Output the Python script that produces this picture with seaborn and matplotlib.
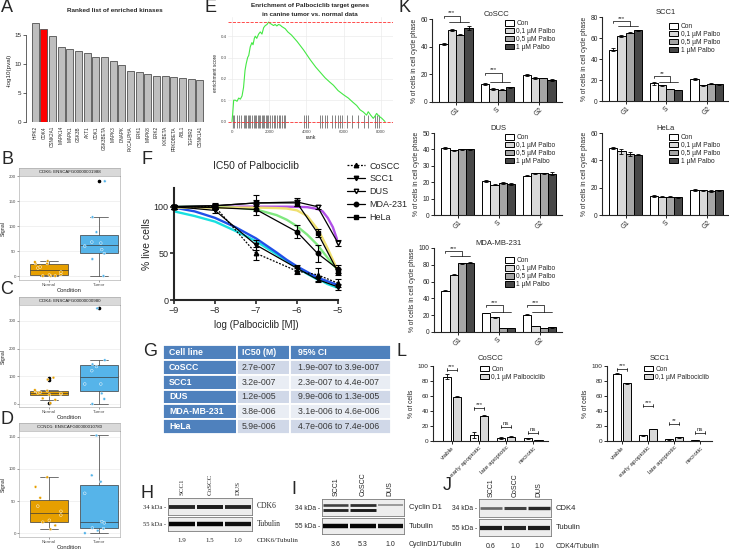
import numpy as np
import pandas as pd
import matplotlib
matplotlib.use("Agg")
import matplotlib.pyplot as plt
from matplotlib.container import BarContainer
from matplotlib.lines import Line2D
import seaborn as sns

W, H = 729, 549  # output size in pixels at dpi 100

# ── A: ranked list of enriched kinases ───────────────────────────────────────
kinases = ["HIPK2", "CDK4", "CSNK2A1", "MAPK14", "MAPK1", "GSK3B", "AKT1", "CDK1",
           "GSK3BETA", "MAPK3", "DNAPK", "PKCALPHA", "ERK1", "MAPK8", "ERK2",
           "IKKBETA", "PRKDBETA", "ABL1", "TGFBR2", "CSNK1A1"]
kinase_logp = [17.1, 16.0, 14.8, 12.9, 12.6, 12.2, 11.9, 11.2, 11.2, 10.5,
               9.8, 8.8, 8.6, 8.3, 7.9, 7.9, 7.8, 7.6, 7.4, 7.3]
highlight_kinase = "CDK4"

# ── B-D: expression signal, normal vs tumor ──────────────────────────────────
cdk6_title = "CDK6: ENSCAFG00000001988"
cdk6_normal = [0, 0, 0, 2, 3, 8, 16, 18, 25, 25, 28, 30]
cdk6_tumor = [0, 34, 45, 53, 60, 66, 68, 88, 118, 190]
cdk4_title = "CDK4: ENSCAFG00000000980"
cdk4_normal = [3, 15, 20, 33, 35, 38, 40, 42, 45, 48, 50, 88, 95]
cdk4_tumor = [0, 18, 38, 72, 72, 120, 135, 143, 158, 345]
ccnd1_title = "CCND1: ENSCAFG00000010780"
ccnd1_normal = [6, 12, 17, 20, 28, 34, 42, 55, 72, 87]
ccnd1_tumor = [0, 4, 7, 8, 16, 18, 62, 80, 90, 152]
cond_colors = {"Normal": "#E69F00", "Tumor": "#56B4E9"}

# ── E: GSEA running enrichment score ─────────────────────────────────────────
es_rank = [0, 40, 90, 180, 270, 360, 450, 540, 620, 700, 760, 840, 900, 980, 1070,
           1130, 1200, 1250, 1330, 1430, 1520, 1610, 1700, 1790, 1880, 1960, 2050,
           2140, 2230, 2320, 2410, 2500, 2590, 2680, 2770, 2860, 3000, 3200, 3500,
           3850, 4200, 4500, 4750, 5000, 5250, 5450, 5700, 6000, 6250, 6500, 6700,
           6880, 7050, 7230, 7320, 7450, 7590, 7680, 7770, 7900, 8050, 8220]
es_score = [0.0, 0.04, 0.10, 0.10, 0.095, 0.11, 0.105, 0.12, 0.16, 0.24, 0.27, 0.30,
            0.31, 0.35, 0.37, 0.36, 0.39, 0.40, 0.39, 0.41, 0.42, 0.41, 0.44, 0.45,
            0.455, 0.466, 0.46, 0.455, 0.45, 0.455, 0.448, 0.455, 0.452, 0.445, 0.44,
            0.435, 0.42, 0.405, 0.375, 0.335, 0.29, 0.255, 0.23, 0.205, 0.185, 0.17,
            0.145, 0.125, 0.11, 0.09, 0.075, 0.055, 0.045, 0.03, 0.046, 0.03, 0.015,
            0.025, 0.038, 0.025, 0.015, 0.0]
hit_ranks = [30, 90, 270, 360, 480, 620, 680, 770, 840, 930, 980, 1070, 1160, 1250,
             1300, 1380, 1450, 1520, 1610, 1660, 1730, 1820, 1880, 1960, 2050, 2140,
             2230, 2320, 2410, 2500, 2590, 2680, 2770, 2860, 3880, 3980, 4060, 4730,
             4820, 5000, 5130, 5360, 5540, 5710, 5800, 5890, 6160, 6430, 6790, 7090,
             7320, 7680, 7770, 7910]

# ── F: IC50 of Palbociclib ───────────────────────────────────────────────────
ic50_lines = ["CoSCC", "SCC1", "DUS", "MDA-231", "HeLa"]
dose_log = [-9, -8, -7, -6, -5.5, -5]
viab_coscc = [100, 100, 50, 31, 27, 18]
viab_scc1 = [100, 96, 59, 34, 22, 14]
viab_dus = [100, 101, 104, 105, 100, 61]
viab_mda = [100, 99, 97, 73, 50, 33]
viab_hela = [100, 101, 104, 104, 72, 30]
err_coscc = [2, 3, 7, 3, 7, 4]
err_scc1 = [2, 3, 5, 3, 3, 3]
err_dus = [2, 3, 3, 4, 2, 3]
err_mda = [2, 2, 6, 7, 9, 4]
err_hela = [2, 2, 9, 3, 4, 3]
fit_logc = [-9, -8.5, -8, -7.5, -7, -6.5, -6.25, -6, -5.75, -5.5, -5.375, -5.25, -5.125, -5]
fit_coscc = [95, 90, 84, 74, 63, 49, 42, 35, 28, 22, 20, 17, 15, 13]
fit_scc1 = [99, 95, 88, 78, 66, 51, 43, 36, 30, 24, 22, 20, 18, 16]
fit_dus = [100, 100, 100, 100, 100, 100, 100, 99.8, 99.5, 97.5, 95, 88, 78, 62]
fit_mda = [100, 100, 99.5, 99, 97, 91, 86, 79, 70, 59, 52, 45, 38, 32]
fit_hela = [99, 99, 99, 99, 99, 98.5, 98, 96, 90, 76, 66, 55, 43, 31]
fit_colors = ["#19E0E0", "#2050E8", "#B050E8", "#80E880", "#F0E070"]

# ── G: IC50 table ────────────────────────────────────────────────────────────
table_header = ["Cell line", "IC50 (M)", "95% CI"]
table_lines = ["CoSCC", "SCC1", "DUS", "MDA-MB-231", "HeLa"]
table_ic50 = ["2.7e-007", "3.2e-007", "1.2e-005", "3.8e-006", "5.9e-006"]
table_ci = ["1.9e-007 to 3.9e-007", "2.3e-007 to 4.4e-007", "9.9e-006 to 1.3e-005",
            "3.1e-006 to 4.6e-006", "4.7e-006 to 7.4e-006"]

# ── H-J: western blots ───────────────────────────────────────────────────────
blot_lanes = ["SCC1", "CoSCC", "DUS"]
cdk6_band = [0.85, 0.9, 0.85]
tub_h_band = [1.0, 1.0, 0.95]
h_ratio = ["1.9", "1.5", "1.0"]
cycd1_upper_band = [0.7, 0.8, 0.25]
cycd1_lower_band = [0.85, 0.9, 0.0]
tub_i_band = [1.0, 1.0, 0.95]
i_ratio = ["3.6", "5.3", "1.0"]
cdk4_band = [0.5, 0.7, 0.85]
tub_j_band = [0.9, 0.85, 0.9]
j_ratio = ["0.6", "1.0", "1.0"]

# ── K: cell cycle distribution ───────────────────────────────────────────────
k_phases = ["G1", "S", "G2"]
k_treatments = ["Con", "0,1 µM Palbo", "0,5 µM Palbo", "1 µM Palbo"]
k_colors = ["#FFFFFF", "#D9D9D9", "#A6A6A6", "#474747"]
k_coscc = [[42, 52, 48.5, 53.5], [13, 9.5, 9, 10.5], [19.5, 17.5, 17.3, 16]]
k_coscc_err = [[0.5, 0.6, 0.4, 1.2], [0.6, 0.5, 0.4, 0.5], [0.5, 0.8, 0.3, 0.5]]
k_scc1 = [[49, 62, 65, 67.5], [17, 15, 11.5, 10.5], [21, 15, 16.5, 16]]
k_scc1_err = [[1.5, 0.6, 0.7, 0.5], [1.5, 0.4, 0.4, 0.4], [0.8, 0.3, 0.4, 0.3]]
k_dus = [[41, 39.5, 40, 40], [20.5, 18.5, 19.5, 18.8], [24, 25.5, 25.5, 25.2]]
k_dus_err = [[0.5, 0.3, 0.4, 0.3], [0.6, 0.4, 0.4, 0.6], [0.4, 0.3, 0.3, 0.8]]
k_hela = [[49, 46.5, 44.5, 44.2], [14, 13.5, 13.5, 13], [18.5, 18, 17.5, 18]]
k_hela_err = [[0.6, 1.5, 1.5, 0.6], [0.5, 0.4, 0.4, 0.4], [0.8, 0.5, 0.5, 0.5]]
k_mda = [[49, 68, 82, 82.5], [22.5, 17.5, 5, 5], [20.5, 7, 5, 5.5]]
k_mda_err = [[0.6, 0.6, 0.5, 0.5], [0.4, 0.5, 0.2, 0.2], [0.4, 0.3, 0.2, 0.2]]

# ── L: apoptosis ─────────────────────────────────────────────────────────────
l_states = ["viable", "early apoptotic", "late apoptotic", "necrotic"]
l_treatments = ["Con", "0,1 µM Palbociclib"]
l_colors = ["#FFFFFF", "#D9D9D9"]
l_coscc = [[86, 59], [8, 33.5], [4, 6], [3.5, 1]]
l_coscc_err = [[3, 0.5], [4, 0.8], [1, 0.6], [0.8, 0.2]]
l_coscc_sig = ["***", "***", "ns", "ns"]
l_scc1 = [[90, 77], [7.5, 16], [2.5, 5], [1, 0.3]]
l_scc1_err = [[0.5, 0.5], [0.5, 0.5], [0.5, 0.5], [0.2, 0.1]]
l_scc1_sig = ["***", "***", "**", "ns"]


sns.set_style("ticks")
plt.rcParams["font.family"] = ["Liberation Sans", "DejaVu Sans"]
plt.rcParams["axes.linewidth"] = 0.8

fig = plt.figure(figsize=(W / 100, H / 100), dpi=100)


def px_axes(x0, y0, x1, y1):
    """Axes from a pixel box (top-left origin)."""
    return fig.add_axes([x0 / W, 1 - y1 / H, (x1 - x0) / W, (y1 - y0) / H])


def fig_text(x, y, s, **kw):
    kw.setdefault("ha", "center")
    kw.setdefault("va", "center")
    fig.text(x / W, 1 - y / H, s, **kw)


def bar_groups(ax):
    return [c for c in ax.containers if isinstance(c, BarContainer)]


# ── A ─────────────────────────────────────────────────────────────────────────
ax = px_axes(30, 18, 205, 122)
df_a = pd.DataFrame({"kinase": kinases, "logp": kinase_logp})
pal_a = ["#FF0000" if k == highlight_kinase else "#BEBEBE" for k in kinases]
sns.barplot(data=df_a, x="kinase", y="logp", hue="kinase", palette=pal_a, legend=False,
            width=0.8, edgecolor="#505050", linewidth=0.6, saturation=1, ax=ax)
ax.set_xlim(-0.6, 19.6)
ax.set_ylim(0, 17.9)
for s in ["top", "right", "bottom"]:
    ax.spines[s].set_visible(False)
ax.spines["left"].set_bounds(0, 15)
ax.spines["left"].set_linewidth(0.5)
ax.spines["left"].set_position(("outward", 3))
ax.set_yticks([0, 5, 10, 15])
ax.tick_params(axis="y", labelsize=4.5, length=2, width=0.5, pad=1)
ax.tick_params(axis="x", labelsize=3.3, rotation=90, length=0, pad=3)
ax.set_xlabel("")
ax.set_ylabel("-log10(pval)", fontsize=4.5, labelpad=2)
fig_text(115, 10, "Ranked list of enriched kinases", fontsize=4.6, fontweight="bold")


# ── B-D ───────────────────────────────────────────────────────────────────────
def expr_panel(top, bottom, title, normal, tumor, ylim, yticks):
    strip = px_axes(19, top, 120, top + 8)
    strip.set_facecolor("#D9D9D9")
    strip.set_xticks([])
    strip.set_yticks([])
    for s in strip.spines.values():
        s.set_color("#A0A0A0")
        s.set_linewidth(0.4)
    strip.text(0.5, 0.5, title, ha="center", va="center", fontsize=3.2,
               color="#1A1A1A", transform=strip.transAxes)

    ax = px_axes(19, top + 8, 120, bottom)
    df = pd.DataFrame({"Condition": ["Normal"] * len(normal) + ["Tumor"] * len(tumor),
                       "Signal": normal + tumor})
    ax.grid(True, color="#EBEBEB", lw=0.5)
    ax.set_axisbelow(True)
    sns.boxplot(data=df, x="Condition", y="Signal", hue="Condition", palette=cond_colors,
                legend=False, width=0.75, saturation=1, linewidth=0.5, linecolor="#3A3A3A",
                flierprops=dict(marker="o", markersize=1.6, markerfacecolor="black",
                                markeredgecolor="black"), ax=ax)
    np.random.seed(3)
    sns.stripplot(data=df, x="Condition", y="Signal", hue="Condition", palette=cond_colors,
                  legend=False, jitter=0.3, size=2.0, linewidth=0.3, edgecolor="white",
                  ax=ax)
    ax.set_xlim(-0.6, 1.42)
    ax.set_ylim(*ylim)
    ax.set_yticks(yticks)
    for s in ax.spines.values():
        s.set_color("#A0A0A0")
        s.set_linewidth(0.4)
    ax.tick_params(labelsize=3.2, length=1.2, width=0.4, pad=1, colors="#4D4D4D")
    ax.set_xlabel("Condition", fontsize=4.2, labelpad=0.5)
    ax.set_ylabel("Signal", fontsize=3.8, labelpad=2)


expr_panel(168, 280, cdk6_title, cdk6_normal, cdk6_tumor, (-8, 200.5), [0, 50, 100, 150, 200])
expr_panel(297, 407, cdk4_title, cdk4_normal, cdk4_tumor, (-11, 357), [0, 100, 200, 300])
expr_panel(423, 537, ccnd1_title, ccnd1_normal, ccnd1_tumor, (-6, 159), [0, 50, 100, 150])


# ── E ─────────────────────────────────────────────────────────────────────────
ax = px_axes(228, 17, 393, 129)
ax.grid(True, color="#EBEBEB", lw=0.5)
ax.set_axisbelow(True)
ax.vlines(hit_ranks, -0.03, 0.03, color="black", lw=0.45, alpha=0.75)
sns.lineplot(x=es_rank, y=es_score, color="#44E844", lw=0.8, ax=ax)
ax.axhline(max(es_score), color="#FF3030", ls="--", lw=0.6)
ax.axhline(0, color="#FF3030", ls="--", lw=0.6)
ax.set_xlim(-215, 8650)
ax.set_ylim(-0.035, 0.49)
ax.set_xticks([0, 2000, 4000, 6000, 8000])
ax.set_yticks([0, 0.1, 0.2, 0.3, 0.4])
for s in ax.spines.values():
    s.set_visible(False)
ax.tick_params(labelsize=3.2, length=0, pad=1, colors="#4D4D4D")
ax.set_xlabel("rank", fontsize=3.8, labelpad=0.5)
ax.set_ylabel("enrichment score", fontsize=3.5, labelpad=2)
fig_text(310, 6, "Enrichment of Palbociclib target genes", fontsize=4.6, fontweight="bold")
fig_text(310, 15, "in canine tumor vs. normal data", fontsize=4.6, fontweight="bold")


# ── F ─────────────────────────────────────────────────────────────────────────
ax = px_axes(174, 188, 338, 300)
fit_df = pd.DataFrame({
    "logc": fit_logc * 5,
    "viab": fit_coscc + fit_scc1 + fit_dus + fit_mda + fit_hela,
    "line": np.repeat(ic50_lines, len(fit_logc)),
})
sns.lineplot(data=fit_df, x="logc", y="viab", hue="line", hue_order=ic50_lines,
             palette=fit_colors, lw=1.7, legend=False, ax=ax)
f_vals = [viab_coscc, viab_scc1, viab_dus, viab_mda, viab_hela]
f_errs = [err_coscc, err_scc1, err_dus, err_mda, err_hela]
f_markers = ["^", "v", "v", "o", "s"]
f_faces = ["black", "black", "white", "black", "black"]
f_styles = [(0, (1.5, 1.2)), "-", "-", "-", "-"]
handles = []
for name, vals, errs, mk, fc, ls in zip(ic50_lines, f_vals, f_errs, f_markers, f_faces, f_styles):
    ax.errorbar(dose_log, vals, yerr=errs, color="black", marker=mk, mfc=fc, mec="black",
                ms=3.2, lw=0.9, ls=ls, capsize=2, elinewidth=0.8, capthick=0.8,
                clip_on=False, zorder=4)
    handles.append(Line2D([], [], color="black", marker=mk, mfc=fc, mec="black", ms=3.2,
                          lw=0.9, ls=ls, label=name))
ax.set_xlim(-9, -5)
ax.set_ylim(0, 120)
ax.set_xticks([-9, -8, -7, -6, -5])
ax.set_yticks([0, 50, 100])
sns.despine(ax=ax)
for s in ["left", "bottom"]:
    ax.spines[s].set_linewidth(1.5)
ax.tick_params(labelsize=6.5, length=3, width=1.2, pad=1)
ax.set_xlabel("log (Palbociclib [M])", fontsize=7, labelpad=4)
ax.set_ylabel("% live cells", fontsize=7.5, labelpad=1)
fig_text(256, 166, "IC50 of Palbociclib", fontsize=7.5)
fig.legend(handles=handles, loc="upper left", bbox_to_anchor=(343 / W, 1 - 158 / H),
           frameon=False, fontsize=6.5, handlelength=2.0, labelspacing=0.42,
           handletextpad=0.5, borderaxespad=0)


# ── G ─────────────────────────────────────────────────────────────────────────
ax = px_axes(163, 345, 391, 434)
ax.axis("off")
cell_text = [[a, b, c] for a, b, c in zip(table_lines, table_ic50, table_ci)]
tbl = ax.table(cellText=cell_text, colLabels=table_header, bbox=[0, 0, 1, 1],
               colWidths=[74, 52, 101], cellLoc="left", colLoc="left")
tbl.auto_set_font_size(False)
for (r, c), cell in tbl.get_celld().items():
    cell.set_edgecolor("white")
    cell.set_linewidth(1.3)
    cell.PAD = 0.08
    txt = cell.get_text()
    txt.set_fontsize(6.3)
    if r == 0 or c == 0:
        cell.set_facecolor("#4F81BD")
        txt.set_color("white")
        txt.set_fontweight("bold")
    else:
        cell.set_facecolor("#D0D8E8" if r % 2 == 1 else "#E9EDF4")
        txt.set_color("#3A3A3A")


# ── H-J ───────────────────────────────────────────────────────────────────────
def blot_box(box, rows, thick):
    ax = px_axes(*box)
    ax.set_xlim(-0.5, 2.5)
    ax.set_ylim(-1, 1)
    ax.set_facecolor("#EDEDED")
    ax.set_xticks([])
    ax.set_yticks([])
    for s in ax.spines.values():
        s.set_color("#7A7A7A")
        s.set_linewidth(0.6)
    for ypos, bands in rows:
        for i, v in enumerate(bands):
            if v > 0:
                ax.plot([i - 0.46, i + 0.46], [ypos, ypos], color=str(round(0.8 - 0.78 * v, 2)),
                        lw=thick * (0.5 + 0.5 * v), solid_capstyle="butt")
    return ax


def blot_panel(x0, x1, y_top, y_mid, y_bot, top_rows, tub_rows, top_name,
               ratios, ratio_name, font, label_y, thick_top):
    blot_box((x0, y_top, x1, y_mid), top_rows, thick_top)
    blot_box((x0, y_mid + 2, x1, y_bot), tub_rows, 3.2)
    lane_w = (x1 - x0) / 3
    for i, lane in enumerate(blot_lanes):
        cx = x0 + lane_w * (i + 0.5)
        fig_text(cx, label_y, lane, rotation=90, va="bottom", fontsize=5, family=font)
        fig_text(cx, y_bot + 10, ratios[i], fontsize=5, family=font)
    fig_text(x0 - 2, (y_top + y_mid) / 2 + 1, "34 kDa -", ha="right", fontsize=4.8, family=font)
    fig_text(x0 - 2, (y_mid + y_bot) / 2 + 2, "55 kDa -", ha="right", fontsize=4.8, family=font)
    fig_text(x1 + 5, (y_top + y_mid) / 2, top_name, ha="left", fontsize=5.5, family=font)
    fig_text(x1 + 5, (y_mid + y_bot) / 2 + 1, "Tubulin", ha="left", fontsize=5.5, family=font)
    fig_text(x1 + 5, y_bot + 10, ratio_name, ha="left", fontsize=5, family=font)


serif = ["Liberation Serif", "DejaVu Serif"]
sans = ["Liberation Sans", "DejaVu Sans"]
blot_panel(168, 252, 498, 515, 531, [(0, cdk6_band)], [(0, tub_h_band)],
           "CDK6", h_ratio, "CDK6/Tubulin", serif, 495, 3.0)
blot_panel(322, 404, 499, 516, 534,
           [(0.35, cycd1_upper_band), (-0.3, cycd1_lower_band)], [(0, tub_i_band)],
           "Cyclin D1", i_ratio, "CyclinD1/Tubulin", sans, 496, 2.2)
blot_panel(479, 551, 499, 517, 536, [(0, cdk4_band)], [(0, tub_j_band)],
           "CDK4", j_ratio, "CDK4/Tubulin", sans, 497, 2.6)


# ── K ─────────────────────────────────────────────────────────────────────────
def cycle_panel(box, title, values, errs, ylim, yticks, legend_anchor):
    ax = px_axes(*box)
    df = pd.DataFrame({
        "phase": np.repeat(k_phases, len(k_treatments)),
        "treat": k_treatments * len(k_phases),
        "val": np.ravel(values),
    })
    sns.barplot(data=df, x="phase", y="val", hue="treat", order=k_phases,
                hue_order=k_treatments, palette=k_colors, saturation=1, width=0.8,
                edgecolor="black", linewidth=0.7, errorbar=None, ax=ax)
    groups = bar_groups(ax)
    for ti, cont in enumerate(groups):
        for pi, bar in enumerate(cont):
            ax.errorbar(bar.get_x() + bar.get_width() / 2, bar.get_height(),
                        yerr=errs[pi][ti], color="black", lw=0.6, capsize=1.2,
                        capthick=0.6, clip_on=False)
    ax.set_xlim(-0.58, 2.55)
    ax.set_ylim(*ylim)
    ax.set_yticks(yticks)
    sns.despine(ax=ax)
    ax.tick_params(axis="y", labelsize=4.8, length=2, width=0.7, pad=1)
    ax.tick_params(axis="x", labelsize=4.8, length=2, width=0.7, pad=1, rotation=45)
    ax.set_xlabel("")
    ax.set_ylabel("% of cells in cell cycle phase", fontsize=4.8, labelpad=2)
    ax.set_title(title, fontsize=5.5, pad=2)
    sns.move_legend(ax, "upper right", bbox_to_anchor=legend_anchor, frameon=False,
                    title=None, fontsize=4.8, handlelength=1.3, handleheight=0.9,
                    labelspacing=0.12, handletextpad=0.4, borderaxespad=0)
    return ax, groups


def group_bracket(ax, groups, phase_idx, h1, h2, label):
    xs = [c[phase_idx].get_x() + c[phase_idx].get_width() / 2 for c in groups]
    x_mid = (xs[1] + xs[3]) / 2
    kw = dict(color="black", lw=0.5, clip_on=False)
    ax.plot([xs[0], xs[0], x_mid, x_mid], [h1 - (h1 - h2) * 0.3, h1, h1, h2], **kw)
    ax.plot([xs[0] + 0.12, xs[3]], [h2, h2], **kw)
    ax.text((xs[0] + x_mid) / 2, h1, label, ha="center", va="bottom", fontsize=4.5)


ax, grp = cycle_panel((432, 19, 562, 102), "CoSCC", k_coscc, k_coscc_err, (0, 60),
                      [0, 20, 40, 60], (0.97, 1.02))
group_bracket(ax, grp, 0, 62.5, 57.5, "***")
group_bracket(ax, grp, 1, 21.3, 14.5, "***")

ax, grp = cycle_panel((602, 17, 729, 101), "SCC1", k_scc1, k_scc1_err, (0, 80),
                      [0, 20, 40, 60, 80], (0.95, 0.96))
group_bracket(ax, grp, 0, 76, 71.5, "***")
group_bracket(ax, grp, 1, 24, 18, "**")

cycle_panel((434, 133, 562, 215), "DUS", k_dus, k_dus_err, (0, 50),
            [0, 10, 20, 30, 40, 50], (0.97, 1.02))
cycle_panel((602, 133, 729, 215), "HeLa", k_hela, k_hela_err, (0, 60),
            [0, 20, 40, 60], (0.95, 1.02))

ax, grp = cycle_panel((434, 248, 562, 332), "MDA-MB-231", k_mda, k_mda_err, (0, 100),
                      [0, 20, 40, 60, 80, 100], (0.97, 0.92))
group_bracket(ax, grp, 0, 96, 90, "***")
group_bracket(ax, grp, 1, 32.5, 24, "***")
group_bracket(ax, grp, 2, 32.5, 24, "***")


# ── L ─────────────────────────────────────────────────────────────────────────
def apoptosis_panel(box, title, values, errs, sigs, sig_heights, xlim):
    ax = px_axes(*box)
    df = pd.DataFrame({
        "state": np.repeat(l_states, len(l_treatments)),
        "treat": l_treatments * len(l_states),
        "val": np.ravel(values),
    })
    sns.barplot(data=df, x="state", y="val", hue="treat", order=l_states,
                hue_order=l_treatments, palette=l_colors, saturation=1, width=0.75,
                gap=0.15, edgecolor="black", linewidth=0.7, errorbar=None, ax=ax)
    groups = bar_groups(ax)
    for ti, cont in enumerate(groups):
        for si, bar in enumerate(cont):
            ax.errorbar(bar.get_x() + bar.get_width() / 2, bar.get_height(),
                        yerr=errs[si][ti], color="black", lw=0.6, capsize=1.2,
                        capthick=0.6, clip_on=False)
    for si, (sig, h) in enumerate(zip(sigs, sig_heights)):
        x0 = groups[0][si].get_x() + groups[0][si].get_width() / 2
        x1 = groups[1][si].get_x() + groups[1][si].get_width() / 2
        ax.plot([x0, x1], [h, h], color="black", lw=0.5, clip_on=False)
        for xx in (x0, x1):
            ax.plot([xx, xx], [h - 2, h + 2], color="black", lw=0.5, clip_on=False)
        ax.text((x0 + x1) / 2, h + 1.5, sig, ha="center", va="bottom", fontsize=4.3)
    ax.set_xlim(*xlim)
    ax.set_ylim(0, 100)
    ax.set_yticks([0, 20, 40, 60, 80, 100])
    sns.despine(ax=ax)
    ax.tick_params(axis="y", labelsize=4.6, length=2, width=0.7, pad=1)
    ax.tick_params(axis="x", labelsize=4.6, length=2, width=0.7, pad=1)
    plt.setp(ax.get_xticklabels(), rotation=45, ha="right", rotation_mode="anchor")
    ax.set_xlabel("")
    ax.set_ylabel("% of cells", fontsize=4.8, labelpad=2)
    ax.set_title(title, fontsize=5.5, pad=4)
    sns.move_legend(ax, "upper right", bbox_to_anchor=(1.0, 1.04), frameon=False,
                    title=None, fontsize=4.8, handlelength=1.3, handleheight=0.9,
                    labelspacing=0.12, handletextpad=0.4, borderaxespad=0)


apoptosis_panel((433, 366, 548, 441), "CoSCC", l_coscc, l_coscc_err, l_coscc_sig,
                [95, 44, 19, 11], (-0.7, 3.55))
apoptosis_panel((607, 366, 712, 441), "SCC1", l_scc1, l_scc1_err, l_scc1_sig,
                [96, 47, 23, 11], (-0.58, 3.46))


# ── panel letters ────────────────────────────────────────────────────────────
letters = {"A": (7, 8), "B": (7, 159), "C": (7, 289), "D": (7, 420), "E": (211, 8),
           "F": (147, 160), "G": (150, 352), "H": (147, 493), "I": (294, 489),
           "J": (447, 485), "K": (405, 8), "L": (401, 352)}
for letter, (lx, ly) in letters.items():
    fig_text(lx, ly, letter, fontsize=13)

fig.savefig("out.png", dpi=100)
